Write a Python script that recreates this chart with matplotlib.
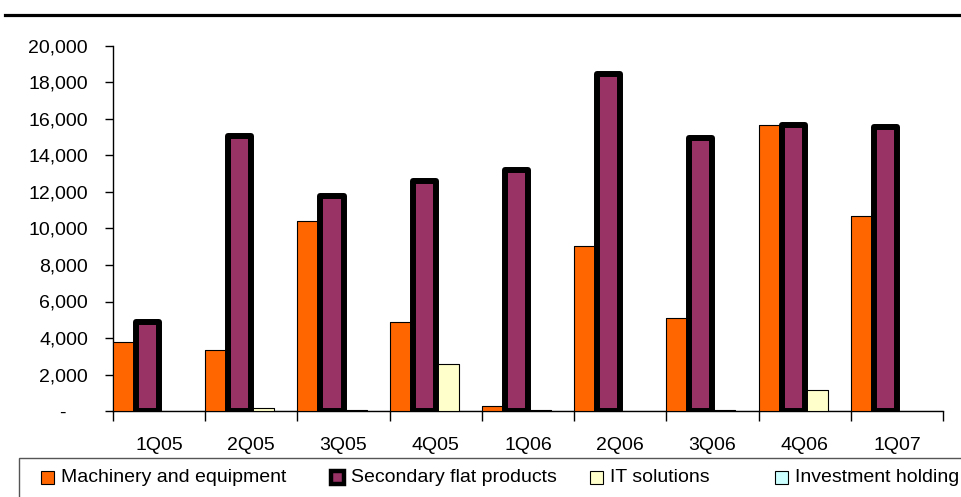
import matplotlib
matplotlib.use("Agg")
import matplotlib.pyplot as plt
from matplotlib.patches import Rectangle
from matplotlib.lines import Line2D
import numpy as np

plt.rcParams['font.family'] = ['Liberation Sans', 'DejaVu Sans']

quarters = ['1Q05', '2Q05', '3Q05', '4Q05', '1Q06', '2Q06', '3Q06', '4Q06', '1Q07']
machinery = [3800, 3350, 10430, 4850, 300, 9050, 5080, 15650, 10700]
secondary_flat = [4850, 15050, 11800, 12600, 13200, 18450, 14950, 15650, 15550]
it_solutions = [0, 150, 50, 2550, 40, 0, 50, 1150, 0]
investment = [0, 0, 0, 0, 0, 0, 0, 0, 0]

series_names = ['Machinery and equipment', 'Secondary flat products',
                'IT solutions', 'Investment holding']
series_vals = [machinery, secondary_flat, it_solutions, investment]
colors = ['#FF6600', '#993366', '#FFFFCC', '#CCFFFF']
edge_w = [0.8, 4.3, 0.8, 0.8]

W, H = 962, 497
fig = plt.figure(figsize=(W / 100, H / 100), dpi=100)
ax = fig.add_axes([113 / W, 1 - 411 / H, (943 - 113) / W, (411 - 46) / H])

x = np.arange(len(quarters))
bw = 0.25
for k, (vals, c, lw) in enumerate(zip(series_vals, colors, edge_w)):
    ax.bar(x + bw * (k + 0.5), vals, width=bw, color=c, edgecolor='black',
           linewidth=lw, joinstyle='round', zorder=4 if k == 1 else 3)

ax.set_xlim(0, len(quarters))
ax.set_ylim(0, 20000)

yt = np.arange(0, 20001, 2000)
ax.set_yticks(yt)
ax.set_yticklabels(['-    ' if v == 0 else f'{v:,}' for v in yt])
ax.tick_params(axis='y', length=6, width=1, pad=12, labelsize=14)

ax.set_xticks(x + 0.5)
ax.set_xticklabels(quarters)
ax.set_xticks(np.arange(len(quarters) + 1), minor=True)
ax.tick_params(axis='x', which='major', length=0, pad=19, labelsize=14)
ax.tick_params(axis='x', which='minor', length=7, width=1)

for s in ['top', 'right']:
    ax.spines[s].set_visible(False)
for s in ['left', 'bottom']:
    ax.spines[s].set_linewidth(1)

# rule across the top of the slide
fig.add_artist(Line2D([5 / W, 1], [1 - 15 / H] * 2, color='black', lw=2.3))

# legend box, running off the bottom and right edges
fig.add_artist(Rectangle((19 / W, -0.05), 1.0, (1 - 458 / H) + 0.05,
                         transform=fig.transFigure, facecolor='none',
                         edgecolor='#555555', lw=1))
leg_x = [41, 331, 590, 775]
for name, c, lw, lx in zip(series_names, colors, edge_w, leg_x):
    sq = 13
    fig.add_artist(Rectangle((lx / W, 1 - (477 + sq / 2) / H), sq / W, sq / H,
                             transform=fig.transFigure, facecolor=c,
                             edgecolor='black', lw=lw if lw < 1 else 3.2,
                             joinstyle='miter'))
    fig.text((lx + 20) / W, 1 - 478 / H, name, fontsize=14, va='center', ha='left')

fig.savefig('out.png', dpi=100)
